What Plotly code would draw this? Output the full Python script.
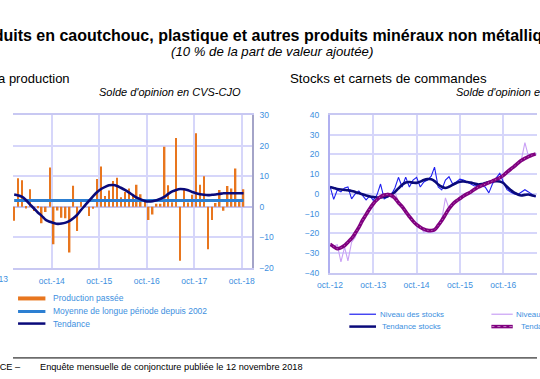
import plotly.graph_objects as go
import pandas as pd

W, H = 540, 379


def px(x):
    return x / W


def py(y):
    return 1 - y / H


# ---------------- Left panel : production ----------------
PROD_MONTHS = pd.date_range("2013-12-01", periods=59, freq="MS") + pd.Timedelta(days=14)
PROD_PASSEE = [
    -4.6, 9.3, 8.7, -0.6, 5.7, -1.4, -0.5, -5.4, -1.7, 12.8,
    -12.3, -1.2, -3.6, -3.8, -15.0, 6.9, -7.9, 1.6, 0.5, -3.0,
    -0.7, 9.1, 13.2, 3.5, 5.3, 8.4, 9.5, 3.1, 4.8, 6.0,
    3.9, 7.2, 4.1, 1.8, -4.3, -2.5, 1.0, 1.0, 19.6, 7.0,
    1.5, 22.5, -17.7, 5.5, 1.4, 3.9, 24.0, 7.2, 10.0, -13.9,
    -4.3, 1.2, 5.5, -1.3, 6.8, 6.0, 12.5, 1.8, 5.7,
]
PROD_TENDANCE = [
    4.0, 3.7, 3.2, 2.2, 0.8, -0.5, -1.9, -3.0, -4.3, -4.9,
    -5.3, -5.6, -5.5, -5.2, -4.6, -3.8, -2.6, -1.0, 0.5, 2.0,
    3.5, 4.8, 5.8, 6.5, 7.0, 7.1, 6.8, 6.2, 5.5, 4.7,
    3.8, 3.0, 2.4, 1.9, 1.7, 1.8, 2.1, 2.6, 3.3, 4.2,
    5.0, 5.5, 5.8, 5.7, 5.4, 4.8, 4.4, 4.1, 3.9, 3.8,
    3.9, 4.0, 4.2, 4.4, 4.4, 4.4, 4.4, 4.4, 4.4,
]
PROD_MOYENNE = 2.0
PROD_TICKS = ["2013-10-01", "2014-10-01", "2015-10-01", "2016-10-01", "2017-10-01", "2018-10-01"]
PROD_TICKTEXT = ["oct.-13", "oct.-14", "oct.-15", "oct.-16", "oct.-17", "oct.-18"]
PROD_YTICKS = [-20, -10, 0, 10, 20, 30]

# ---------------- Right panel : stocks & carnets ----------------
STOCK_MONTHS = pd.date_range("2012-10-01", periods=58, freq="MS")
NIV_STOCKS = [
    3.8, -2.8, 2.0, 1.0, 3.0, 3.5, -2.5, 0.0, 1.5, -1.0,
    -3.0, -1.0, -3.3, -0.5, 5.0, -2.5, -1.5, -0.5, 3.0, 8.4,
    3.5, 8.5, 3.5, 7.0, 8.4, 3.5, 6.0, 7.0, 9.0, 13.6,
    3.5, 2.0, 7.0, 8.7, 5.0, 6.0, 7.5, 7.0, 6.0, 5.0,
    4.0, 4.5, 3.8, 3.5, 0.5, 5.0, 8.0, 10.4, 6.0, 2.1,
    1.0, 0.0, -0.3, 1.0, 2.1, 1.0, -0.5, -1.5,
]
TEND_STOCKS = [
    3.5, 3.0, 2.5, 2.2, 2.0, 1.8, 1.5, 1.0, 0.4, -0.2,
    -0.8, -1.3, -1.6, -1.8, -1.8, -1.6, -1.2, -0.3, 1.0, 2.8,
    4.6, 5.8, 6.0, 5.7, 5.6, 6.2, 7.0, 7.5, 7.4, 6.5,
    4.8, 3.6, 3.0, 3.6, 4.6, 5.5, 6.2, 6.3, 6.0, 5.8,
    5.2, 4.8, 5.0, 5.5, 6.0, 6.3, 6.4, 6.3, 5.5, 3.6,
    2.0, 0.6, -0.3, -0.8, -0.5, -0.3, -0.8, -1.2,
]
NIV_CARNETS = [
    -25.5, -26.5, -25.8, -34.5, -27.0, -34.0, -24.5, -22.0, -17.0, -13.0,
    -10.5, -8.0, -5.5, -2.5, -1.5, -0.5, 0.5, -2.0, 0.8, -4.0,
    -7.0, -9.5, -11.5, -14.0, -16.0, -16.5, -19.5, -18.5, -19.5, -18.8,
    -17.0, -13.0, -2.0, -7.5, -5.0, -3.0, -2.0, -1.0, 0.5, 1.2,
    2.6, 3.5, 4.5, 4.8, 5.6, 6.5, 7.5, 8.0, 9.5, 11.0,
    12.5, 14.0, 15.5, 17.0, 26.0, 19.0, 19.5, 20.5,
]
TEND_CARNETS = [
    -25.5, -26.8, -27.8, -27.3, -26.2, -24.5, -22.6, -20.0, -17.0, -13.5,
    -10.5, -7.5, -5.0, -3.0, -1.5, -0.6, -0.3, -0.8, -2.2, -4.5,
    -6.5, -9.0, -11.5, -13.8, -15.6, -16.9, -17.9, -18.5, -18.6, -18.2,
    -16.0, -13.5, -10.5, -7.5, -5.2, -3.6, -2.4, -1.1, 0.0, 1.0,
    2.3, 3.4, 4.2, 4.9, 5.7, 6.5, 7.3, 8.2, 9.4, 11.0,
    12.5, 14.0, 15.6, 16.9, 18.0, 18.9, 19.7, 20.3,
]
STOCK_TICKS = ["2012-10-01", "2013-10-01", "2014-10-01", "2015-10-01", "2016-10-01", "2017-10-01"]
STOCK_TICKTEXT = ["oct.-12", "oct.-13", "oct.-14", "oct.-15", "oct.-16", "oct.-17"]
STOCK_YTICKS = [-40, -30, -20, -10, 0, 10, 20, 30, 40]

# ---------------- Styles ----------------
ORANGE = "#E8761E"
NAVY = "#0A0A7A"
MEAN_BLUE = "#2C7FD2"
STOCK_BLUE = "#1E1EF0"
LILAC = "#C9A0F5"
PURPLE = "#800080"
GRID = "#D6D6FA"
TICKBLUE = "#3D8FE0"
FONT = "Liberation Sans, Arial, sans-serif"

fig = go.Figure()

fig.add_trace(go.Bar(x=PROD_MONTHS, y=PROD_PASSEE, marker_color=ORANGE, marker_line_width=0,
                     width=0.38 * 30.44 * 86400000, xaxis="x", yaxis="y", showlegend=False))
fig.add_trace(go.Scatter(x=PROD_MONTHS, y=[PROD_MOYENNE] * len(PROD_MONTHS), mode="lines",
                         line=dict(color=MEAN_BLUE, width=3), xaxis="x", yaxis="y", showlegend=False))
fig.add_trace(go.Scatter(x=PROD_MONTHS, y=PROD_TENDANCE, mode="lines", line_shape="spline",
                         line=dict(color=NAVY, width=2.6), xaxis="x", yaxis="y", showlegend=False))

fig.add_trace(go.Scatter(x=STOCK_MONTHS, y=NIV_CARNETS, mode="lines",
                         line=dict(color=LILAC, width=1.1), xaxis="x2", yaxis="y2", showlegend=False))
fig.add_trace(go.Scatter(x=STOCK_MONTHS, y=NIV_STOCKS, mode="lines",
                         line=dict(color=STOCK_BLUE, width=1.1), xaxis="x2", yaxis="y2", showlegend=False))
fig.add_trace(go.Scatter(x=STOCK_MONTHS, y=TEND_STOCKS, mode="lines", line_shape="spline",
                         line=dict(color=NAVY, width=2.6), xaxis="x2", yaxis="y2", showlegend=False))
fig.add_trace(go.Scatter(x=STOCK_MONTHS, y=TEND_CARNETS, mode="lines", line_shape="spline",
                         line=dict(color=PURPLE, width=3.6), xaxis="x2", yaxis="y2", showlegend=False))
fig.add_trace(go.Scatter(x=STOCK_MONTHS, y=TEND_CARNETS, mode="lines", line_shape="spline",
                         line=dict(color="#C080C0", width=1, dash="1px,3px"), xaxis="x2", yaxis="y2",
                         showlegend=False))

axis_common = dict(showgrid=True, gridcolor=GRID, gridwidth=1.5, ticks="",
                   tickfont=dict(family=FONT, size=8.5, color=TICKBLUE), zeroline=False)

fig.update_layout(
    width=W, height=H, margin=dict(l=0, r=0, t=0, b=0),
    paper_bgcolor="white", plot_bgcolor="white", showlegend=False,
    font=dict(family=FONT),
    xaxis=dict(axis_common, domain=[0, px(246)], type="date",
               range=["2013-12-06", "2018-12-17"], tickvals=PROD_TICKS, ticktext=PROD_TICKTEXT,
               showline=True, linecolor="#C8C8F2", linewidth=1.5, mirror=True,
               ticklabelstandoff=4, anchor="y"),
    yaxis=dict(axis_common, domain=[py(270), py(113)], range=[-20, 30], tickvals=PROD_YTICKS,
               side="right", showline=True, linecolor="#A4A4C8", linewidth=2,
               zeroline=True, zerolinecolor="#C4C4F2", zerolinewidth=1.5,
               ticklabelstandoff=4, anchor="x"),
    xaxis2=dict(axis_common, domain=[px(326.7), 1], type="date",
                range=["2012-10-01", "2017-07-12"], tickvals=STOCK_TICKS, ticktext=STOCK_TICKTEXT,
                showline=True, linecolor="#C8C8F2", linewidth=1.5, mirror=True,
                ticklabelstandoff=3, anchor="y2"),
    yaxis2=dict(axis_common, domain=[py(275), py(113)], range=[-40, 40], tickvals=STOCK_YTICKS,
                showline=True, linecolor="#B0B0F0", linewidth=2, ticklabelstandoff=7, anchor="x2"),
)

ann = []


def text(x, y, s, size, anchor="left", color="black", bold=False, italic=False):
    if bold:
        s = "<b>" + s + "</b>"
    if italic:
        s = "<i>" + s + "</i>"
    ann.append(dict(x=px(x), y=py(y), xref="paper", yref="paper", text=s, showarrow=False,
                    xanchor=anchor, yanchor="middle", font=dict(family=FONT, size=size, color=color)))


# texts that run past the picture edge are placed by their centre
text(262.8, 31.5, "Produits en caoutchouc, plastique et autres produits minéraux non métalliques", 16,
     anchor="center", bold=True)
text(267, 47.5, "(10 % de la part de valeur ajoutée)", 13.2, anchor="center", italic=True)
text(-18.5, 76, "Évolution de la production", 13, anchor="center")
text(237, 89, "Solde d'opinion en CVS-CJO", 11, anchor="right", italic=True)
text(283, 76, "Stocks et carnets de commandes", 13.3)
text(529.7, 89, "Solde d'opinion en CVS-CJO", 11, anchor="center", italic=True)
text(-19, 281, "oct.-13", 8.5, anchor="center", color=TICKBLUE)

shapes = []


def seg(x0, x1, y, color, width, dash="solid"):
    shapes.append(dict(type="line", xref="paper", yref="paper", x0=px(x0), x1=px(x1), y0=py(y), y1=py(y),
                       line=dict(color=color, width=width, dash=dash)))


# legends
seg(5.2, 33.4, 301.4, ORANGE, 4)
text(39, 301.4, "Production passée", 8.5, color=TICKBLUE)
seg(5.2, 33.4, 314.8, MEAN_BLUE, 3)
text(39, 314.8, "Moyenne de longue période depuis 2002", 8.5, color=TICKBLUE)
seg(5.2, 33.4, 327.2, NAVY, 2.5)
text(39, 327.2, "Tendance", 8.5, color=TICKBLUE)

seg(346.6, 374.1, 317.6, STOCK_BLUE, 1.2)
text(376.6, 317.6, "Niveau des stocks", 7.9, color=TICKBLUE)
seg(346.6, 374.1, 330.3, NAVY, 2.5)
text(378.6, 330.3, "Tendance stocks", 7.9, color=TICKBLUE)
seg(493, 515, 317.6, LILAC, 1.2)
text(553.5, 317.6, "Niveau des carnets", 7.9, anchor="center", color=TICKBLUE)
seg(493, 515, 330.3, PURPLE, 3.5)
seg(493, 515, 330.3, "#C080C0", 1, "dot")
text(555, 330.3, "Tendance carnets", 7.9, anchor="center", color=TICKBLUE)

# separator & source
seg(0, 540, 362.5, "black", 1)
text(-45, 372, "BANQUE DE FRANCE –", 9.2, anchor="center")
text(25.9, 372, "Enquête mensuelle de conjoncture publiée le 12 novembre 2018", 9.2)

fig.update_layout(annotations=ann, shapes=shapes)
fig.write_html("out.html", config={"displayModeBar": False},
               post_script="document.body.style.margin='0px';")
